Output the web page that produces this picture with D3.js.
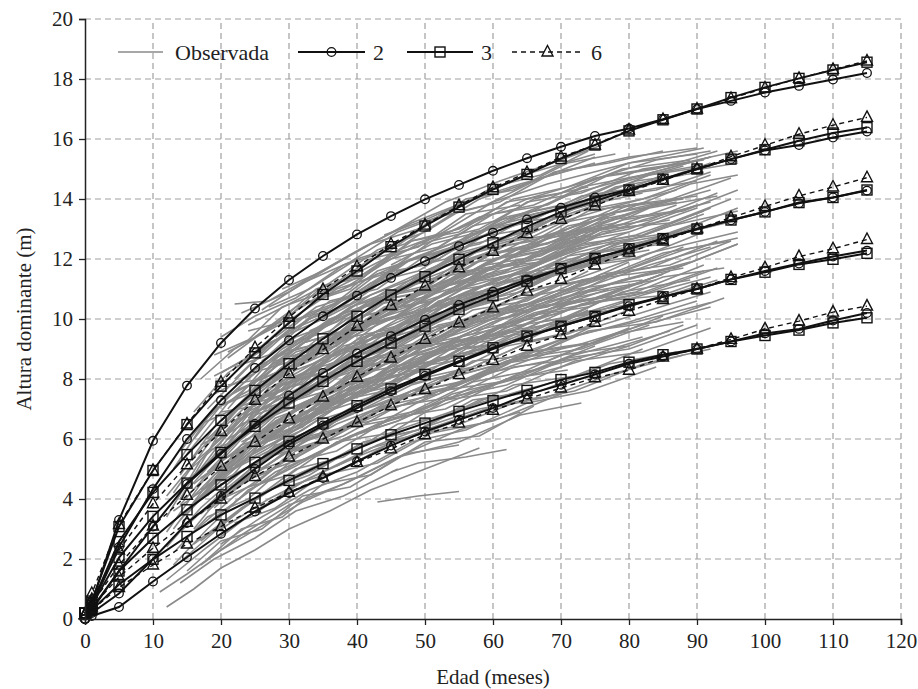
<!DOCTYPE html>
<html>
<head>
<meta charset="utf-8">
<script src="https://cdn.jsdelivr.net/npm/d3@7"></script>
<style>
  body { margin: 0; background: #fff; }
  svg text { font-family: "Liberation Serif", "Times New Roman", Tinos, "DejaVu Serif", "Noto Serif", FreeSerif, serif !important; fill: #222; }
</style>
</head>
<body>
<svg width="918" height="689"></svg>
<script>
// edades (meses) donde se evaluan los modelos
let ages = [0, 1, 5, 10, 15, 20, 25, 30, 35, 40, 45, 50, 55, 60, 65, 70, 75, 80, 85, 90, 95, 100, 105, 110, 115];

// modelo 2 (circulos) -- indices de sitio 17, 15, 13, 11, 9
let model2 = [
  [0, 0.55, 3.3, 5.94, 7.78, 9.2, 10.35, 11.3, 12.1, 12.82, 13.43, 13.99, 14.47, 14.94, 15.36, 15.74, 16.1, 16.35, 16.66, 17.0, 17.27, 17.55, 17.77, 17.98, 18.2],
  [0, 0.45, 2.4, 4.33, 6.0, 7.29, 8.37, 9.29, 10.09, 10.78, 11.37, 11.93, 12.43, 12.88, 13.32, 13.71, 14.05, 14.32, 14.66, 15.0, 15.33, 15.62, 15.8, 16.05, 16.25],
  [0, 0.3, 1.6, 3.08, 4.5, 5.5, 6.5, 7.45, 8.2, 8.85, 9.43, 9.98, 10.47, 10.91, 11.32, 11.68, 12.04, 12.34, 12.68, 13.0, 13.29, 13.57, 13.86, 14.05, 14.28],
  [0, 0.2, 0.85, 2.0, 3.2, 4.1, 5.0, 5.81, 6.45, 7.03, 7.59, 8.1, 8.56, 9.0, 9.41, 9.76, 10.09, 10.43, 10.74, 11.0, 11.32, 11.6, 11.85, 12.08, 12.28],
  [0, 0.1, 0.4, 1.25, 2.06, 2.84, 3.58, 4.2, 4.7, 5.25, 5.78, 6.25, 6.64, 7.03, 7.48, 7.81, 8.15, 8.51, 8.75, 9.0, 9.25, 9.52, 9.67, 9.95, 10.2]
];

// modelo 3 (cuadrados)
let model3 = [
  [0.2, 0.6, 3.08, 4.95, 6.48, 7.76, 8.87, 9.87, 10.82, 11.6, 12.41, 13.1, 13.73, 14.32, 14.82, 15.35, 15.8, 16.27, 16.64, 17.0, 17.38, 17.72, 18.02, 18.3, 18.56],
  [0.2, 0.5, 2.58, 4.22, 5.48, 6.62, 7.62, 8.51, 9.34, 10.09, 10.8, 11.41, 11.99, 12.54, 13.08, 13.57, 13.93, 14.3, 14.66, 15.0, 15.33, 15.64, 15.94, 16.2, 16.38],
  [0.2, 0.45, 2.05, 3.42, 4.53, 5.55, 6.42, 7.2, 7.92, 8.59, 9.2, 9.76, 10.32, 10.78, 11.26, 11.68, 12.02, 12.34, 12.68, 13.0, 13.3, 13.57, 13.88, 14.05, 14.3],
  [0.2, 0.35, 1.6, 2.69, 3.64, 4.47, 5.22, 5.92, 6.53, 7.11, 7.67, 8.15, 8.59, 9.04, 9.43, 9.76, 10.09, 10.48, 10.74, 11.0, 11.32, 11.56, 11.82, 11.99, 12.19],
  [0.2, 0.3, 1.15, 1.99, 2.75, 3.47, 4.03, 4.62, 5.18, 5.67, 6.14, 6.53, 6.92, 7.28, 7.62, 7.98, 8.22, 8.56, 8.81, 9.0, 9.25, 9.45, 9.63, 9.87, 10.04]
];

// modelo 6 (triangulos, linea discontinua)
let model6 = [
  [0.15, 0.85, 3.15, 4.95, 6.5, 7.89, 9.04, 10.06, 10.98, 11.74, 12.49, 13.13, 13.78, 14.38, 14.88, 15.4, 15.8, 16.3, 16.65, 17.0, 17.35, 17.7, 18.02, 18.32, 18.6],
  [0.15, 0.65, 2.3, 3.84, 5.14, 6.25, 7.29, 8.18, 8.98, 9.76, 10.45, 11.1, 11.71, 12.26, 12.85, 13.32, 13.77, 14.25, 14.62, 15.0, 15.41, 15.79, 16.16, 16.46, 16.72],
  [0.15, 0.5, 1.8, 3.1, 4.12, 5.09, 5.89, 6.67, 7.4, 8.06, 8.7, 9.32, 9.87, 10.37, 10.93, 11.32, 11.8, 12.23, 12.6, 13.0, 13.38, 13.75, 14.1, 14.4, 14.71],
  [0.15, 0.4, 1.4, 2.36, 3.22, 4.0, 4.75, 5.4, 6.0, 6.55, 7.11, 7.65, 8.15, 8.62, 9.09, 9.48, 9.89, 10.26, 10.65, 11.0, 11.38, 11.71, 12.08, 12.34, 12.65],
  [0.15, 0.3, 1.05, 1.8, 2.5, 3.08, 3.7, 4.22, 4.73, 5.22, 5.67, 6.14, 6.53, 6.96, 7.33, 7.7, 8.04, 8.29, 8.73, 9.0, 9.32, 9.67, 9.93, 10.23, 10.43]
];

// parcelas observadas: pares edad, altura
let observed = [
  [23,10.2, 30,10.9, 38,12.0, 46,13.0, 53,13.9, 61,14.6, 70,15.3, 76,15.8],
  [22,10.5, 27,10.6, 34,11.5, 41,12.4, 48,13.2, 57,14.0, 66,14.9, 75,15.5],
  [25,9.4, 31,10.4, 39,11.0, 45,12.2, 52,12.8, 60,13.9, 68,14.5, 80,15.2, 91,15.7],
  [20,8.2, 26,9.0, 33,10.0, 40,10.9, 47,11.9, 55,12.6, 63,13.4, 72,14.2, 82,14.8, 92,15.4],
  [18,7.0, 24,8.4, 30,9.6, 37,10.3, 44,11.4, 52,12.0, 60,13.1, 69,13.6, 78,14.5, 88,15.1],
  [15,5.5, 21,7.2, 28,8.5, 35,9.7, 42,10.5, 50,11.6, 58,12.3, 66,13.1, 75,13.8],
  [19,7.5, 25,8.2, 32,9.3, 39,10.4, 46,10.9, 54,12.0, 62,12.5, 71,13.6, 80,14.2, 90,14.6],
  [16,5.4, 22,6.9, 29,8.4, 36,9.1, 43,10.2, 51,11.1, 59,11.8, 68,12.8, 78,13.5],
  [14,4.0, 20,6.3, 27,7.8, 34,8.9, 41,9.7, 49,10.8, 57,11.4, 65,12.3, 74,13.0, 84,13.8, 92,14.3],
  [17,5.0, 23,6.8, 30,7.6, 37,8.9, 45,9.6, 53,10.6, 61,11.3, 70,12.1, 80,12.9],
  [20,5.9, 26,7.4, 33,8.3, 40,9.3, 48,10.1, 56,10.9, 64,11.6, 73,12.4],
  [15,4.3, 21,5.8, 28,7.1, 35,8.0, 42,9.0, 50,9.7, 58,10.5, 67,11.3, 76,12.0, 86,12.8],
  [18,4.9, 24,6.3, 31,7.4, 38,8.5, 46,9.1, 54,10.2, 62,10.7, 71,11.7, 81,12.3, 91,13.1],
  [16,4.1, 22,5.5, 29,6.7, 36,7.7, 44,8.6, 52,9.4, 60,10.1, 69,10.8, 78,11.5],
  [13,3.0, 19,4.8, 26,6.1, 33,7.3, 40,8.0, 48,9.0, 56,9.6, 64,10.4, 73,11.0, 83,11.8, 92,12.4],
  [15,3.5, 21,5.0, 28,6.2, 35,7.3, 43,8.1, 51,8.9, 59,9.6, 68,10.3, 77,11.0],
  [20,5.3, 27,6.0, 34,7.1, 41,7.8, 49,8.8, 57,9.3, 66,10.2, 75,10.7, 85,11.5],
  [14,2.9, 20,4.2, 27,5.5, 34,6.4, 42,7.4, 50,8.1, 58,8.9, 67,9.6, 76,10.2],
  [17,3.5, 23,4.6, 30,5.6, 37,6.5, 45,7.2, 53,8.0, 61,8.5, 70,9.3, 80,9.9, 90,10.6],
  [15,2.7, 22,4.1, 29,5.2, 36,6.1, 44,6.9, 52,7.6, 61,8.3, 70,9.0],
  [18,3.2, 25,4.4, 32,5.3, 40,6.2, 48,6.9, 57,7.6, 66,8.3, 76,8.9, 86,9.6],
  [16,2.5, 23,3.7, 30,4.7, 38,5.5, 46,6.3, 55,7.0, 64,7.6, 74,8.2],
  [12,1.3, 18,2.4, 25,3.6, 33,4.7, 41,5.5, 50,6.3, 59,7.0],
  [12,0.4, 16,1.0, 20,1.7, 25,2.3, 30,3.0, 36,3.6, 42,4.3, 50,5.0, 58,5.7],
  [43,3.9, 49,4.1, 55,4.25],
  [45,4.9, 49,5.2, 56,5.4, 62,5.65],
  [11,0.9, 15,1.5, 20,2.3, 26,3.1, 32,3.9, 39,4.6, 47,5.5, 55,6.3, 64,6.9],
  [24,9.8, 30,10.5, 36,11.2, 43,12.3, 50,12.9, 58,14.0, 66,14.6, 75,15.4],
  [21,8.7, 27,9.7, 34,10.7, 41,11.5, 49,12.5, 57,13.2, 65,14.0, 74,14.6, 84,15.3, 92,15.6],
  [23,8.0, 29,8.9, 36,10.0, 43,10.6, 51,11.6, 59,12.2, 68,13.1, 77,13.7, 87,14.3],
  [18,6.0, 24,7.3, 31,8.4, 38,9.4, 46,10.3, 54,10.9, 63,11.9, 72,12.5, 82,13.3, 92,13.9],
  [21,6.3, 28,7.5, 35,8.7, 42,9.3, 50,10.3, 58,10.9, 67,11.7, 76,12.3, 86,13.1, 96,13.6],
  [19,5.4, 25,6.5, 32,7.6, 39,8.3, 47,9.3, 55,9.9, 64,10.8, 73,11.4, 83,12.2, 96,12.9],
  [22,5.4, 28,6.6, 35,7.4, 43,8.4, 51,9.0, 60,9.9, 69,10.5, 79,11.3, 89,11.9],
  [17,4.0, 24,5.4, 31,6.3, 38,7.2, 46,8.0, 54,8.6, 63,9.5, 72,10.1, 82,10.8, 92,11.4],
  [20,4.6, 26,5.3, 33,6.3, 40,6.9, 48,7.8, 56,8.3, 65,9.2, 74,9.7],
  [24,5.1, 30,5.7, 37,6.7, 44,7.2, 52,8.0, 61,8.6, 71,9.4, 81,9.9, 92,10.55],
  [22,3.9, 28,4.9, 35,5.6, 43,6.5, 51,7.0, 60,7.8, 70,8.4, 80,9.1, 88,9.8],
  [26,10.3, 32,11.2, 39,11.9, 46,12.9, 53,13.5, 60,14.4, 67,14.8, 74,15.6],
  [16,6.0, 21,7.4, 27,8.6, 33,9.4, 40,10.5, 47,11.1, 55,12.2, 63,12.7, 72,13.7, 82,14.2],
  [13,4.2, 18,5.8, 24,7.4, 30,8.3, 37,9.5, 44,10.1, 52,11.2, 60,11.7, 69,12.8, 78,13.2],
  [20,6.6, 26,7.9, 33,8.6, 40,9.8, 47,10.3, 55,11.4, 63,11.8, 72,12.9, 80,13.2],
  [15,4.6, 20,5.6, 26,7.0, 33,7.9, 40,9.0, 48,9.6, 56,10.7, 65,11.2, 74,12.2],
  [14,3.8, 19,5.1, 25,6.0, 32,7.2, 39,7.9, 46,9.0, 54,9.5, 62,10.6, 71,11.0, 80,11.9],
  [17,4.3, 23,5.2, 30,6.5, 37,7.1, 45,8.3, 53,8.7, 61,9.8, 70,10.2, 80,11.1],
  [19,4.5, 25,5.6, 32,6.3, 40,7.5, 48,7.9, 56,9.0, 65,9.3, 74,10.3],
  [24,7.0, 30,8.0, 36,8.6, 43,9.6, 50,10.0, 57,11.0, 64,11.4, 72,12.2, 81,12.7, 91,13.5],
  [22,7.6, 28,8.2, 34,9.3, 41,9.8, 49,10.9, 57,11.3, 65,12.4, 74,12.8, 83,13.7, 93,14.1],
  [26,6.3, 31,7.0, 38,7.7, 45,8.6, 52,9.1, 60,9.9, 69,10.6, 78,11.2, 88,11.8, 96,12.5],
  [17,6.5, 22,7.0, 28,8.1, 34,9.0, 41,9.9, 48,10.8, 56,11.5, 64,12.4, 73,13.0, 85,13.9],
  [21,4.9, 27,5.6, 34,6.6, 41,7.1, 49,8.0, 57,8.4, 66,9.3, 76,9.8, 86,10.5, 92,10.9],
  [19,8.1, 24,8.7, 30,9.9, 36,10.4, 43,11.6, 50,12.1, 57,13.1, 65,13.5, 73,14.4, 82,14.8, 92,15.4],
  [23,6.5, 29,7.0, 36,8.0, 44,8.6, 52,9.7, 60,10.1, 69,11.1, 78,11.5, 88,12.4],
  [14,3.3, 20,4.8, 27,5.7, 34,6.8, 42,7.4, 50,8.5, 58,8.9, 67,9.9, 76,10.3],
  [20,9.4, 25,10.1, 31,10.7, 38,11.8, 45,12.3, 52,13.4, 59,13.8, 67,14.7, 75,15.2],
  [20,3.0, 27,4.0, 34,4.8, 42,5.7, 50,6.2, 59,7.0, 68,7.4, 78,8.2, 88,8.8],
  [13,1.8, 18,3.0, 24,4.3, 31,5.1, 38,6.0, 46,6.6, 54,7.5, 63,8.0, 72,8.8, 82,9.4],
  [25,8.4, 31,9.0, 38,10.2, 45,10.7, 53,11.8, 61,12.2, 70,13.2, 79,13.6, 89,14.5, 96,14.8],
  [28,9.4, 34,10.4, 41,10.9, 48,12.0, 56,12.4, 64,13.5, 73,13.9, 83,14.8, 92,15.1],
  [12,2.9, 17,4.5, 23,6.0, 29,7.0, 36,8.2, 43,8.9, 51,9.9, 59,10.6, 68,11.4, 77,12.0],
  [16,4.5, 22,5.6, 28,6.8, 35,7.5, 42,8.6, 50,9.1, 58,10.2, 67,10.6, 77,11.5],
  [18,4.1, 24,5.7, 31,6.4, 38,7.6, 46,8.1, 54,9.2, 62,9.5, 71,10.5, 81,10.9, 91,11.8],
  [16,3.4, 22,4.3, 29,5.5, 36,6.0, 44,7.1, 52,7.5, 61,8.5, 70,8.8, 80,9.7],
  [27,10.4, 33,11.0, 40,12.0, 47,12.5, 54,13.5, 61,13.9, 69,14.9, 77,15.2, 85,15.6],
  [22,8.0, 28,9.3, 35,10.0, 42,11.2, 49,11.6, 57,12.7, 65,13.0, 74,14.0, 84,14.3, 92,14.9],
  [19,6.2, 25,7.7, 31,8.4, 38,9.6, 45,10.0, 53,11.1, 61,11.5, 70,12.5, 80,12.9, 90,13.7],
  [18,5.2, 24,6.8, 31,7.6, 38,8.7, 46,9.2, 54,10.3, 62,10.7, 71,11.7, 81,12.1],
  [20,4.8, 26,6.2, 33,6.8, 40,7.9, 47,8.4, 55,9.4, 63,9.8, 72,10.7, 82,11.2],
  [19,3.7, 25,4.9, 32,5.5, 40,6.5, 48,6.9, 57,7.9, 66,8.3, 75,9.1],
  [14,1.9, 19,2.9, 26,4.2, 33,4.8, 41,5.9, 49,6.3, 58,7.3, 67,7.6, 77,8.5, 87,8.9],
  [17,1.8, 23,2.8, 30,3.8, 38,4.5, 46,5.4, 55,5.9, 64,6.8, 73,7.2],
  [14,4.8, 19,6.4, 25,7.6, 31,8.8, 38,9.4, 45,10.5, 52,11.0, 60,12.0, 68,12.4, 77,13.4],
  [21,6.0, 27,6.8, 34,8.0, 41,8.5, 49,9.6, 57,10.0, 66,11.0, 75,11.3, 85,12.2, 95,12.6],
  [23,5.6, 29,6.1, 36,7.2, 44,7.6, 52,8.7, 61,9.1, 70,10.0, 80,10.4],
  [16,6.9, 21,8.2, 27,9.1, 33,10.2, 40,10.8, 47,11.9, 54,12.4, 62,13.4, 70,13.8, 80,14.7, 90,15.1],
  [26,8.0, 32,8.6, 39,9.7, 46,10.1, 54,11.2, 62,11.6, 71,12.6, 80,13.0, 90,13.8],
  [29,11.0, 35,11.6, 42,12.5, 49,13.0, 56,14.0, 63,14.3, 71,15.2, 78,15.5],
  [25,3.5, 31,4.5, 38,5.0, 46,6.0, 54,6.4, 63,7.2, 72,7.6, 82,8.5, 92,9.0],
  [12,2.4, 17,3.7, 23,4.9, 30,6.0, 37,6.6, 45,7.7, 53,8.1, 62,9.1, 71,9.5, 80,10.3],
  [24,5.0, 30,5.8, 37,6.3, 45,7.3, 53,7.7, 62,8.6, 72,9.1, 82,9.8, 92,10.4],
  [25,7.3, 30,7.7, 37,8.9, 44,9.3, 52,10.4, 60,10.8, 69,11.8, 78,12.2, 88,13.0],
  [30,9.2, 36,9.6, 43,10.7, 50,11.1, 58,12.1, 66,12.5, 75,13.4, 85,13.9, 95,14.7],
  [13,5.0, 18,6.7, 23,7.8, 29,9.0, 35,9.8, 42,10.8, 49,11.4, 57,12.5, 65,12.9, 74,13.9],
  [15,3.6, 21,5.1, 27,6.4, 34,7.0, 41,8.2, 49,8.6, 57,9.6, 65,10.0, 74,10.9, 84,11.3],
  [21,4.3, 27,5.4, 34,5.9, 42,6.9, 50,7.3, 59,8.2, 68,8.6, 78,9.5, 88,9.9],
  [27,7.0, 33,7.5, 40,8.6, 48,9.0, 56,10.0, 64,10.4, 73,11.3, 83,11.7, 93,12.6],
  [17,8.0, 22,9.0, 28,9.8, 34,11.0, 41,11.5, 48,12.6, 55,13.0, 63,14.0, 71,14.4, 80,15.2, 90,15.5],
  [12,3.4, 17,5.3, 22,6.6, 28,7.8, 35,8.7, 42,9.8, 50,10.3, 58,11.3, 66,11.8, 75,12.7],
  [26,6.0, 32,6.5, 39,7.5, 47,8.0, 55,9.0, 64,9.3, 73,10.2, 83,10.6, 93,11.3],
  [32,10.5, 38,11.0, 45,12.0, 52,12.4, 60,13.5, 68,13.8, 77,14.8, 86,15.1, 96,15.6],
  [13,2.2, 18,3.4, 24,4.0, 30,5.2, 37,5.6, 45,6.7, 53,7.0, 62,8.0, 71,8.3],
  [15,1.6, 20,2.6, 26,3.0, 32,4.1, 39,4.4, 47,5.5, 55,5.8],
  [18,2.0, 23,3.0, 29,3.4, 35,4.5, 42,4.8, 50,5.9, 58,6.1, 66,7.1],
  [20,2.5, 26,3.4, 33,4.3, 40,4.9, 48,5.9, 56,6.3, 65,7.2, 74,7.6, 84,8.4],
  [14,1.2, 19,2.0, 25,2.7, 31,3.6, 38,4.1, 46,5.0],
  [22,3.2, 28,3.7, 35,4.8, 43,5.2, 51,6.2, 60,6.6, 70,7.5],
  [24,4.4, 30,4.8, 37,5.9, 45,6.2, 53,7.3, 62,7.6, 72,8.6, 82,8.9, 92,9.7],
  [19,3.9, 25,4.5, 31,5.6, 38,6.1, 46,7.1, 54,7.4, 63,8.4, 73,8.7],
  [21,5.0, 27,6.2, 33,6.7, 40,7.8, 47,8.2, 55,9.3, 63,9.6, 72,10.6, 82,10.9],
  [17,4.7, 22,5.4, 28,6.7, 34,7.2, 41,8.4, 48,8.8, 56,9.9, 64,10.3, 73,11.2],
  [23,6.2, 28,7.3, 34,7.8, 41,9.0, 48,9.4, 56,10.5, 64,10.9, 73,11.9, 83,12.3],
  [20,6.9, 25,7.1, 31,8.3, 37,8.8, 44,10.0, 51,10.4, 59,11.5, 67,11.9, 76,12.9, 86,13.3],
  [22,8.4, 27,8.8, 33,10.0, 39,10.5, 46,11.6, 53,12.0, 61,13.1, 69,13.4, 78,14.4, 88,14.8],
  [19,8.8, 24,9.3, 29,10.4, 35,10.9, 42,12.0, 49,12.4, 56,13.5, 64,13.8],
  [25,9.0, 30,9.5, 36,10.6, 43,11.0, 50,12.1, 58,12.5, 66,13.5, 75,13.9, 85,14.8],
  [28,8.6, 34,9.0, 41,10.1, 48,10.5, 56,11.6, 64,11.9, 73,12.9, 83,13.3, 93,14.2],
  [30,8.0, 36,8.4, 43,9.5, 50,9.8, 58,10.9, 66,11.2, 75,12.2, 85,12.5],
  [31,7.3, 37,7.7, 44,8.8, 51,9.1, 59,10.1, 68,10.4, 77,11.4, 87,11.7, 96,12.5],
  [29,6.4, 35,7.0, 42,7.9, 50,8.4, 58,9.3, 67,9.6, 76,10.6, 86,10.8],
  [27,5.5, 33,6.2, 40,6.9, 48,7.6, 56,8.2, 65,8.7, 74,9.6, 84,9.9, 94,10.7],
  [32,6.6, 38,7.3, 45,7.9, 53,8.7, 61,9.2, 70,10.0, 80,10.4, 90,11.2],
  [34,8.8, 40,9.5, 47,10.2, 55,11.0, 63,11.5, 72,12.4, 81,12.8, 91,13.6],
  [35,10.0, 41,10.7, 48,11.4, 56,12.2, 64,12.7, 73,13.6, 82,14.0, 92,14.8],
  [38,11.3, 44,12.0, 51,12.6, 58,13.4, 66,13.8, 75,14.7, 84,15.0, 93,15.6],
  [40,7.5, 46,8.3, 53,8.7, 61,9.7, 70,10.0, 79,10.9, 89,11.3],
  [36,6.2, 42,6.8, 49,7.6, 57,8.0, 66,8.9, 75,9.2, 85,10.1],
  [42,9.9, 48,10.6, 55,11.1, 62,12.0, 70,12.4, 79,13.3, 88,13.6, 96,14.3],
  [45,11.8, 51,12.5, 58,12.9, 65,13.9, 73,14.2, 82,15.0, 91,15.3],
  [16,3.0, 21,4.4, 27,4.9, 33,6.1, 40,6.5, 48,7.6, 56,7.9, 65,8.9, 74,9.2],
  [13,3.6, 18,4.4, 23,5.8, 29,6.3, 35,7.6, 42,8.0, 49,9.1, 57,9.5, 66,10.5],
  [14,5.6, 19,7.0, 24,7.5, 30,8.9, 36,9.3, 43,10.6, 50,10.9, 58,12.1, 66,12.4],
  [12,4.1, 16,5.2, 21,6.2, 26,7.4, 32,7.9, 38,9.1, 45,9.5, 52,10.6, 60,11.0],
  [18,5.6, 23,6.0, 29,7.3, 35,7.7, 42,8.9, 49,9.2, 57,10.3, 65,10.6, 74,11.6],
  [21,7.8, 26,8.0, 32,9.2, 38,9.6, 45,10.8, 52,11.1, 60,12.2, 68,12.5, 77,13.5, 87,13.9],
  [24,9.6, 29,9.9, 35,11.1, 41,11.4, 48,12.6, 55,12.9, 62,13.9, 70,14.2, 79,15.0, 89,15.3],
  [26,7.8, 31,8.7, 37,9.1, 44,10.3, 51,10.6, 59,11.7, 67,12.0, 76,13.0],
  [28,7.6, 33,7.9, 39,9.0, 46,9.3, 54,10.4, 62,10.7, 71,11.7, 81,12.0, 91,12.9],
  [22,4.5, 28,5.8, 34,6.1, 41,7.3, 49,7.5, 57,8.6, 66,8.8, 75,9.8],
  [17,2.6, 22,3.5, 28,4.4, 34,5.0, 41,5.9, 49,6.3, 57,7.3, 66,7.6],
  [25,4.0, 31,5.0, 38,5.4, 46,6.5, 54,6.8, 63,7.8, 72,8.1, 82,9.0],
  [33,5.4, 39,6.1, 46,6.6, 54,7.4, 62,7.8, 71,8.7, 80,9.0, 90,9.8],
  [37,5.1, 43,5.8, 50,6.4, 58,7.0, 67,7.4],
  [30,9.9, 36,10.3, 43,11.5, 50,11.8, 57,12.9, 65,13.2, 73,14.1, 82,14.4, 92,15.2],
  [20,7.3, 25,7.9, 31,8.9, 37,9.3, 44,10.4, 51,10.8, 59,11.8, 67,12.1, 76,13.1],
  [23,7.1, 29,7.6, 35,8.7, 42,9.1, 50,10.1, 58,10.5, 66,11.5, 75,11.8, 85,12.7],
  [26,5.9, 32,6.9, 39,7.3, 46,8.3, 54,8.6, 62,9.6, 71,9.9, 81,10.7],
  [44,12.8, 50,13.3, 57,14.0, 64,14.5, 72,15.0, 80,15.4, 90,15.7],
  [50,12.0, 56,12.6, 63,13.1, 71,13.8, 79,14.2, 88,14.9, 96,15.2],
  [55,10.6, 62,11.2, 70,11.7, 78,12.4, 87,12.8, 96,13.3],
  [48,9.0, 55,9.6, 62,10.2, 70,10.7, 79,11.3, 88,11.7],
  [20,5.6, 25,6.9, 30,7.3, 36,8.5, 42,8.9, 49,9.9, 56,10.3, 64,11.2, 72,11.6, 81,12.4],
  [22,6.6, 27,7.1, 33,8.3, 39,8.7, 46,9.8, 53,10.2, 61,11.2, 69,11.5, 78,12.5, 88,12.9],
  [18,4.4, 23,5.6, 29,6.1, 35,7.3, 42,7.6, 49,8.8, 57,9.1, 65,10.1, 74,10.4],
  [24,6.7, 29,7.8, 35,8.2, 41,9.4, 48,9.7, 55,10.8, 63,11.1, 71,12.1, 80,12.4, 90,13.2],
  [26,8.6, 31,9.4, 37,9.9, 44,10.9, 51,11.3, 58,12.3, 66,12.6, 74,13.6, 83,13.9],
  [21,7.0, 26,8.3, 32,8.7, 38,10.0, 45,10.3, 52,11.4, 60,11.7, 68,12.7, 77,13.0, 87,13.8],
  [19,5.9, 24,6.6, 30,7.9, 36,8.3, 43,9.5, 50,9.8, 58,10.9, 66,11.2, 75,12.2],
  [23,5.9, 29,6.6, 35,7.6, 42,8.0, 50,9.1, 58,9.4, 67,10.4, 76,10.7, 86,11.6],
  [25,6.8, 31,7.3, 37,8.3, 44,8.8, 52,9.8, 60,10.2, 69,11.1, 78,11.5, 88,12.3, 96,12.7],
  [27,8.4, 32,9.2, 38,9.6, 45,10.7, 52,11.0, 60,12.0, 68,12.3, 77,13.3, 87,13.6],
  [29,8.2, 35,8.8, 41,9.8, 48,10.2, 56,11.2, 64,11.5, 73,12.5, 82,12.8, 92,13.7],
  [31,8.8, 37,9.2, 44,10.3, 51,10.6, 59,11.7, 67,11.9, 76,13.0, 86,13.2, 95,14.0],
  [33,9.6, 39,10.2, 46,11.0, 53,11.6, 61,12.4, 69,12.8, 78,13.7, 88,14.0],
  [36,10.8, 42,11.4, 49,12.1, 56,12.7, 64,13.4, 72,13.8, 81,14.6, 91,14.9],
  [34,7.0, 40,7.7, 47,8.4, 55,9.1, 63,9.7, 72,10.4, 81,10.8, 91,11.6],
  [38,8.0, 44,8.8, 51,9.3, 59,10.2, 67,10.6, 76,11.5, 86,11.8, 95,12.6],
  [40,9.2, 46,10.0, 53,10.4, 61,11.4, 69,11.7, 78,12.6, 87,12.9, 96,13.7],
  [43,10.5, 49,11.2, 56,11.7, 63,12.6, 71,12.9, 80,13.8, 90,14.1],
  [46,8.2, 52,8.9, 59,9.4, 67,10.2, 76,10.6, 85,11.4, 94,11.7],
  [52,10.0, 58,10.7, 65,11.2, 73,12.0, 81,12.3, 90,13.1],
  [30,6.8, 36,7.6, 43,8.1, 50,9.1, 58,9.4, 66,10.4, 75,10.7, 85,11.5],
  [28,6.9, 34,7.3, 40,8.4, 47,8.7, 55,9.8, 63,10.1, 72,11.0, 82,11.3],
  [22,5.1, 28,6.3, 34,6.8, 41,7.9, 48,8.2, 56,9.3, 64,9.6, 73,10.5, 83,10.9, 93,11.7],
  [20,4.1, 26,5.0, 32,5.9, 39,6.4, 47,7.4, 55,7.7, 64,8.7, 73,9.0, 83,9.8],
  [18,3.6, 24,4.7, 30,5.2, 37,6.3, 44,6.6, 52,7.6, 61,7.9, 70,8.8, 80,9.1],
  [16,3.9, 21,4.6, 26,5.9, 32,6.4, 38,7.6, 45,7.9, 52,9.0, 60,9.3, 69,10.3],
  [15,4.9, 20,5.9, 25,7.2, 31,7.6, 37,8.9, 44,9.2, 51,10.4, 59,10.7, 67,11.7],
  [17,5.8, 22,6.4, 27,7.7, 33,8.1, 39,9.4, 46,9.7, 53,10.9, 61,11.2, 69,12.2, 78,12.6],
  [19,7.0, 24,7.6, 29,8.9, 35,9.2, 41,10.4, 48,10.7, 55,11.8, 63,12.1, 71,13.1, 80,13.5],
  [21,8.9, 26,9.5, 31,10.1, 37,11.0, 44,11.5, 51,12.6, 58,13.0, 66,14.0, 74,14.4]
];

let xTicks = [0, 10, 20, 30, 40, 50, 60, 70, 80, 90, 100, 110, 120];
let yTicks = [0, 2, 4, 6, 8, 10, 12, 14, 16, 18, 20];

let fontStack = '"Liberation Serif", "Times New Roman", Tinos, "DejaVu Serif", "Noto Serif", FreeSerif, serif';

let svg = d3.select('svg');

let x = d3.scaleLinear().domain([0, 120]).range([85, 901]);
let y = d3.scaleLinear().domain([0, 20]).range([619, 19]);

// rejilla discontinua
let grid = svg.append('g');
grid.selectAll('line.gx')
    .data(xTicks.slice(1))
    .enter().append('line')
    .attr('x1', d => x(d)).attr('x2', d => x(d))
    .attr('y1', y(0)).attr('y2', y(20))
    .attr('stroke', '#a0a0a0').attr('stroke-width', 1.2)
    .attr('stroke-dasharray', '6,4');
grid.selectAll('line.gy')
    .data(yTicks.slice(1))
    .enter().append('line')
    .attr('y1', d => y(d)).attr('y2', d => y(d))
    .attr('x1', x(0)).attr('x2', x(120))
    .attr('stroke', '#a0a0a0').attr('stroke-width', 1.2)
    .attr('stroke-dasharray', '6,4');

// lineas observadas
let line = d3.line().x(d => x(d[0])).y(d => y(d[1]));
let pairs = arr => d3.range(0, arr.length, 2).map(i => [arr[i], arr[i + 1]]);

svg.append('g').selectAll('path')
   .data(observed)
   .enter().append('path')
   .attr('d', d => line(pairs(d)))
   .attr('fill', 'none')
   .attr('stroke', '#8a8a8a')
   .attr('stroke-width', 1.6);

// curvas de los modelos
let models = [
  { name: '6', curves: model6, dash: '5,4', width: 1.4, shape: 'tri' },
  { name: '3', curves: model3, dash: null, width: 2, shape: 'sq' },
  { name: '2', curves: model2, dash: null, width: 2, shape: 'circ' }
];

function marker(g, shape, cx, cy) {
  if (shape === 'circ') {
    g.append('circle').attr('cx', cx).attr('cy', cy).attr('r', 4.3)
     .attr('fill', 'none').attr('stroke', '#111').attr('stroke-width', 1.3);
  } else if (shape === 'sq') {
    g.append('rect').attr('x', cx - 5).attr('y', cy - 5).attr('width', 10).attr('height', 10)
     .attr('fill', 'none').attr('stroke', '#111').attr('stroke-width', 1.4);
  } else {
    g.append('path').attr('d', `M${cx},${cy - 6.5}L${cx + 5.5},${cy + 4}L${cx - 5.5},${cy + 4}Z`)
     .attr('fill', 'none').attr('stroke', '#111').attr('stroke-width', 1.4);
  }
}

models.forEach(m => {
  let g = svg.append('g');
  m.curves.forEach(c => {
    let pts = ages.map((a, i) => [a, c[i]]);
    g.append('path')
     .attr('d', line(pts))
     .attr('fill', 'none')
     .attr('stroke', '#111')
     .attr('stroke-width', m.width)
     .attr('stroke-dasharray', m.dash);
    pts.forEach(p => marker(g, m.shape, x(p[0]), y(p[1])));
  });
});

// ejes
let xAxis = svg.append('g')
    .attr('transform', `translate(0,${y(0)})`)
    .call(d3.axisBottom(x).tickValues(xTicks).tickSizeOuter(0).tickSize(6).tickPadding(8));
let yAxis = svg.append('g')
    .attr('transform', `translate(${x(0)},0)`)
    .call(d3.axisLeft(y).tickValues(yTicks).tickSizeOuter(0).tickSize(6).tickPadding(6));

[xAxis, yAxis].forEach(a => {
  a.attr('font-family', fontStack);
  a.select('.domain').attr('stroke', '#222').attr('stroke-width', 1.5);
  a.selectAll('.tick line').attr('stroke', '#222').attr('stroke-width', 1.3);
  a.selectAll('.tick text')
   .style('font-family', fontStack)
   .style('font-size', '21px')
   .attr('fill', '#222');
});

// titulos
svg.append('text')
   .attr('x', (x(0) + x(120)) / 2).attr('y', 684)
   .attr('text-anchor', 'middle')
   .style('font-size', '21px')
   .text('Edad (meses)');
svg.append('text')
   .attr('transform', `translate(31,${(y(0) + y(20)) / 2}) rotate(-90)`)
   .attr('text-anchor', 'middle')
   .style('font-size', '21px')
   .text('Altura dominante (m)');

// leyenda
let leg = svg.append('g');
leg.append('line').attr('x1', 118).attr('x2', 163).attr('y1', 52).attr('y2', 52)
   .attr('stroke', '#8a8a8a').attr('stroke-width', 1.3);
leg.append('text').attr('x', 175).attr('y', 60).style('font-size', '22px').text('Observada');

let legItems = [
  { name: '2', shape: 'circ', x1: 298, x2: 365, dash: null, width: 2 },
  { name: '3', shape: 'sq', x1: 407, x2: 473, dash: null, width: 2 },
  { name: '6', shape: 'tri', x1: 512, x2: 583, dash: '5,4', width: 1.4 }
];
legItems.forEach(it => {
  leg.append('line').attr('x1', it.x1).attr('x2', it.x2).attr('y1', 52).attr('y2', 52)
     .attr('stroke', '#111').attr('stroke-width', it.width).attr('stroke-dasharray', it.dash);
  marker(leg, it.shape, (it.x1 + it.x2) / 2, 52);
  leg.append('text').attr('x', it.x2 + 8).attr('y', 60).style('font-size', '22px').text(it.name);
});
</script>
</body>
</html>
